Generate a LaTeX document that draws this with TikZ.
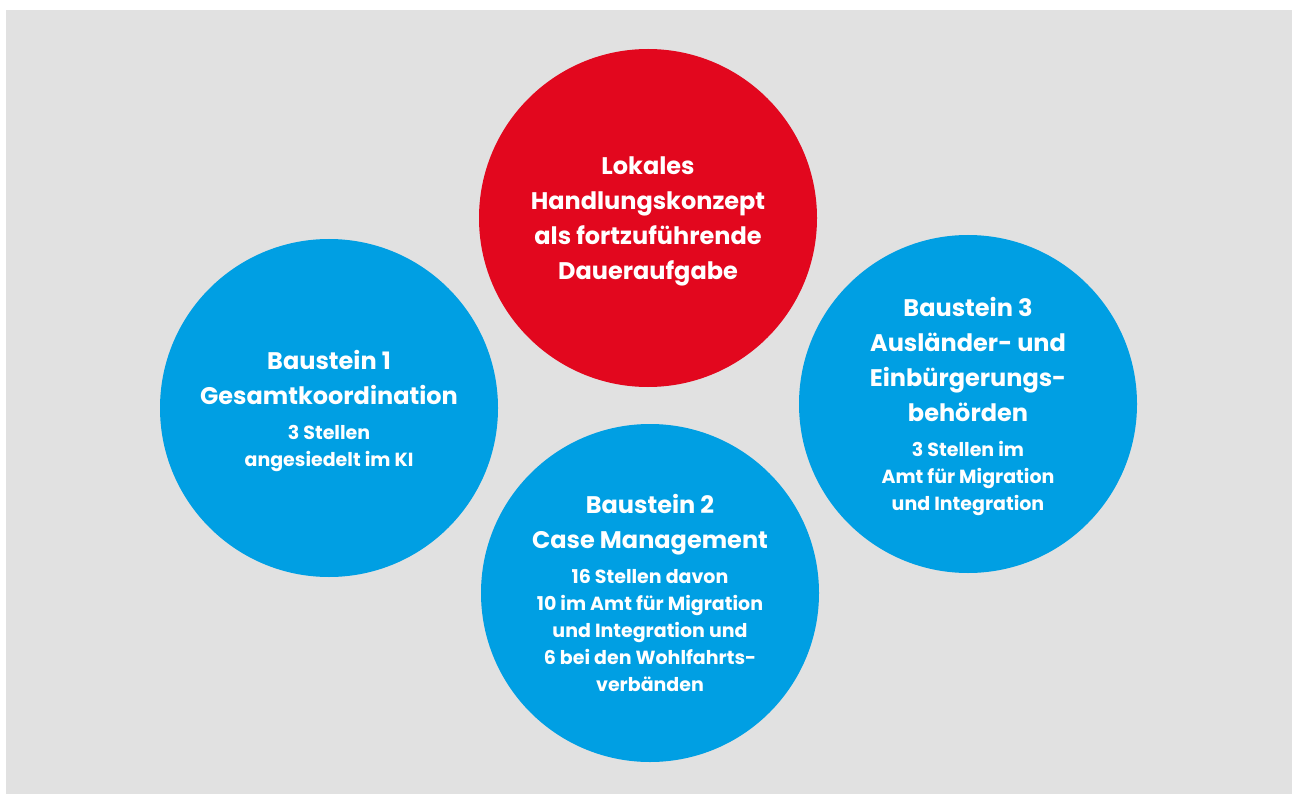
\documentclass[tikz,border=0pt]{standalone}
\usepackage{fontspec}
\setmainfont{Poppins}
\definecolor{bgGrey}{HTML}{E1E1E1}
\definecolor{kiRed}{HTML}{E2071E}
\definecolor{kiBlue}{HTML}{009FE3}
\newcommand{\bigtxt}{\fontsize{24}{35}\selectfont}
\newcommand{\smalltxt}{\fontsize{19}{27}\selectfont}
\newcommand{\nl}{\\[-8pt]}
\tikzset{
  bubble/.style={circle, minimum size=338pt, inner sep=0pt, draw=none,
    text=white, font=\bfseries\bigtxt, align=center, text depth=0pt},
  redbubble/.style={bubble, fill=kiRed},
  bluebubble/.style={bubble, fill=kiBlue},
}
\begin{document}
\begin{tikzpicture}[x=1pt,y=-1pt]
\useasboundingbox (0,0) rectangle (1292,794);
\fill[white] (0,0) rectangle (1292,794);
\fill[bgGrey] (6,10) rectangle (1292,794);
\node[redbubble] (red) at (648,218) {Lokales\\Handlungskonzept\\als fortzuführende\\Daueraufgabe};
\node[bluebubble] (b1) at (329,408) {Baustein 1\\Gesamtkoordination\\\smalltxt 3 Stellen\nl\smalltxt angesiedelt im KI};
\node[bluebubble] (b2) at (650,593) {Baustein 2\\Case Management\\\smalltxt 16 Stellen davon\nl\smalltxt 10 im Amt für Migration\nl\smalltxt und Integration und\nl\smalltxt 6 bei den Wohlfahrts-\nl\smalltxt verbänden};
\node[bluebubble] (b3) at (968,404) {Baustein 3\\Ausländer- und\\Einbürgerungs-\\behörden\\\smalltxt 3 Stellen im\nl\smalltxt Amt für Migration\nl\smalltxt und Integration};
\end{tikzpicture}
\end{document}
